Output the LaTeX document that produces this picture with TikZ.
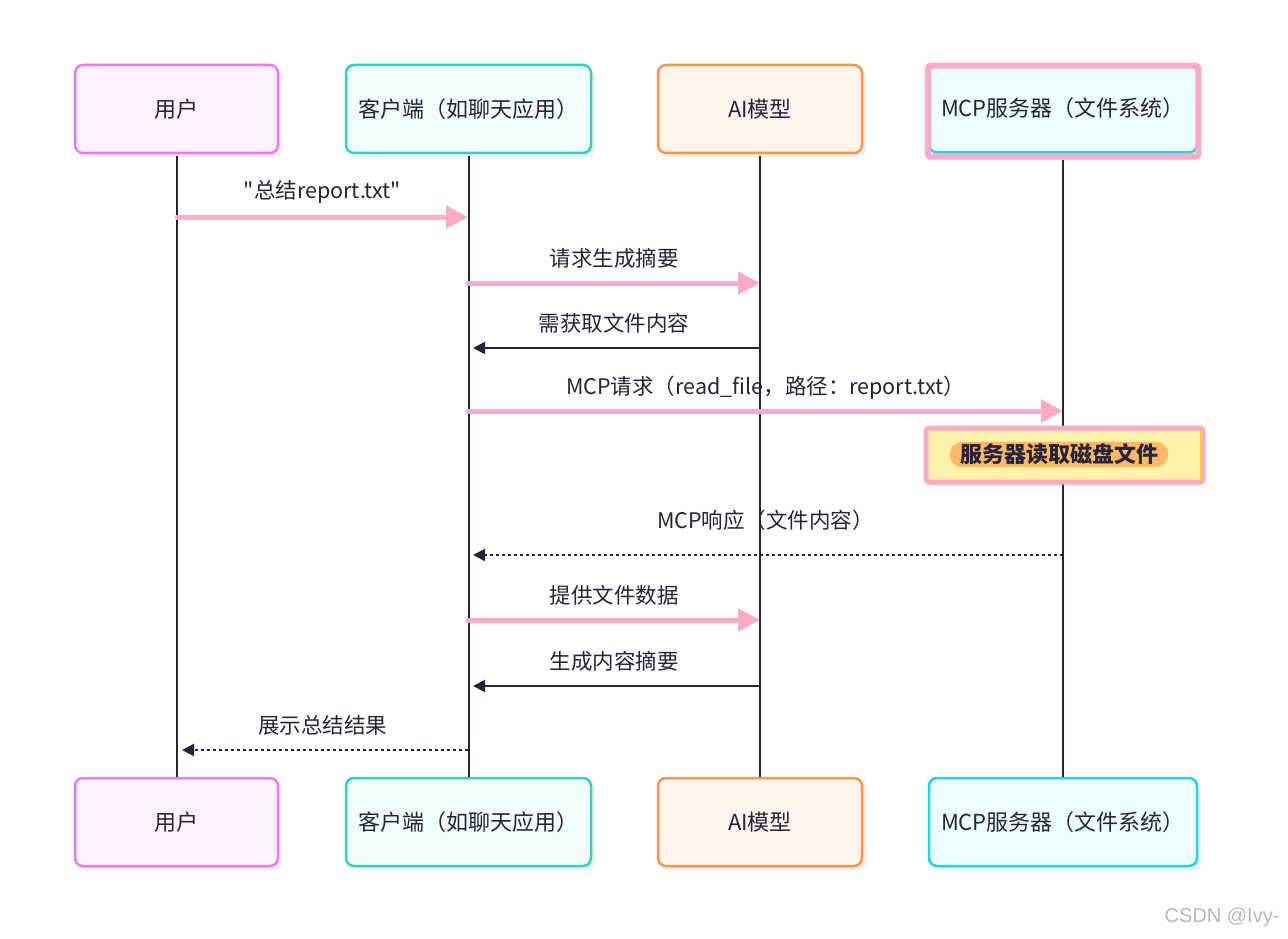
\documentclass[tikz,border=0pt]{standalone}
\usepackage{fontspec}
\setmainfont{Noto Sans CJK SC}[Ligatures=TeXOff]
\newfontfamily\wmfont{Liberation Sans}
\usetikzlibrary{arrows.meta,shadows}
\definecolor{lineC}{HTML}{27233A}
\definecolor{hiPink}{HTML}{FFAAC8}
\definecolor{userD}{HTML}{E97BF7}
\definecolor{userF}{HTML}{FDF2FD}
\definecolor{clientD}{HTML}{2DD4BF}
\definecolor{clientF}{HTML}{F0FDFA}
\definecolor{aiD}{HTML}{F7974A}
\definecolor{aiF}{HTML}{FFF5EC}
\definecolor{mcpD}{HTML}{22D3EE}
\definecolor{mcpF}{HTML}{ECFEFF}
\definecolor{noteF}{HTML}{FFF2A8}
\definecolor{pillF}{HTML}{FFB964}
\definecolor{stripeC}{HTML}{FFD400}
\tikzstyle{actor}=[rectangle,rounded corners=8pt,line width=2.5pt,minimum height=88pt,font=\fontsize{22}{26}\selectfont,text=lineC,drop shadow={shadow xshift=4pt,shadow yshift=-4pt,opacity=0.12}]
\tikzstyle{life}=[line width=2pt,lineC]
\tikzstyle{req}=[line width=5pt,hiPink,line cap=round,-{Triangle[length=22pt,width=22pt]}]
\tikzstyle{ret}=[line width=2pt,lineC,shorten >=5pt,-{Triangle[length=12pt,width=12pt]}]
\tikzstyle{reply}=[ret,dash pattern=on 3pt off 3pt]
\tikzstyle{lbl}=[font=\fontsize{21.5}{25}\selectfont,text=lineC,midway,yshift=25pt]

\begin{document}
\begin{tikzpicture}[x=1pt,y=-1pt]
\fill[white] (0,0) rectangle (1288,939);
\useasboundingbox (0,0) rectangle (1288,939);

% participants
\node[actor,draw=userD,fill=userF,minimum width=203pt] (userTop) at (176.5,109) {用户};
\node[actor,draw=clientD,fill=clientF,minimum width=245pt] (clientTop) at (468.5,109) {客户端（如聊天应用）};
\node[actor,draw=aiD,fill=aiF,minimum width=204pt] (aiTop) at (760,109) {AI模型};
\node[actor,draw=mcpD,fill=mcpF,minimum width=268pt] (mcpTop) at (1063,108.5) {MCP服务器（文件系统）};
\draw[hiPink,line width=6pt,rounded corners=3pt] ([yshift=-2.5pt]mcpTop.north west) rectangle ([yshift=-3pt]mcpTop.south east);

\node[actor,draw=userD,fill=userF,minimum width=203pt] (userBot) at (176.5,822) {用户};
\node[actor,draw=clientD,fill=clientF,minimum width=245pt] (clientBot) at (468.5,822) {客户端（如聊天应用）};
\node[actor,draw=aiD,fill=aiF,minimum width=204pt] (aiBot) at (760,822) {AI模型};
\node[actor,draw=mcpD,fill=mcpF,minimum width=268pt] (mcpBot) at (1063,822) {MCP服务器（文件系统）};

% lifelines
\draw[life] ([yshift=-2pt]userTop.south) -- (userBot.north);
\draw[life] ([yshift=-2pt]clientTop.south) -- (clientBot.north);
\draw[life] ([yshift=-2pt]aiTop.south) -- (aiBot.north);
\draw[life] ([yshift=-6pt]mcpTop.south) -- (mcpBot.north);

% message points
\coordinate (u1) at (177,217); \coordinate (c1) at (468,217);
\coordinate (c2) at (468,283); \coordinate (a2) at (760,283);
\coordinate (a3) at (760,348); \coordinate (c3) at (468,348);
\coordinate (c4) at (468,411); \coordinate (m4) at (1063,411);
\coordinate (m6) at (1063,555); \coordinate (c6) at (468,555);
\coordinate (c7) at (468,620); \coordinate (a7) at (760,620);
\coordinate (a8) at (760,686); \coordinate (c8) at (468,686);
\coordinate (c9) at (468,750); \coordinate (u9) at (177,750);

\draw[req] (u1) -- (c1) node[lbl] {"总结report.txt"};
\draw[req] (c2) -- (a2) node[lbl] {请求生成摘要};
\draw[ret] (a3) -- (c3) node[lbl] {需获取文件内容};
\draw[req] (c4) -- (m4) node[lbl,yshift=-2pt] {MCP请求（read\_file，路径：report.txt）};

% note over the server
\node[rectangle,rounded corners=3pt,fill=noteF,draw=hiPink,line width=5pt,minimum width=277pt,minimum height=54pt,drop shadow={shadow xshift=3pt,shadow yshift=-4pt,opacity=0.12}] (readNote) at (1064.5,455) {};
\draw[stripeC,line width=2.5pt] ([xshift=-4.5pt,yshift=-4pt]readNote.north east) -- ([xshift=-4.5pt,yshift=4pt]readNote.south east);
\node[fill=pillF,rounded corners=12pt,inner xsep=10pt,inner ysep=2pt,font=\fontsize{22}{26}\selectfont\bfseries,text=lineC] (readPill) at (1059,454.5) {服务器读取磁盘文件};

\draw[reply] (m6) -- (c6) node[lbl,yshift=10pt] {MCP响应（文件内容）};
\draw[req] (c7) -- (a7) node[lbl] {提供文件数据};
\draw[ret] (a8) -- (c8) node[lbl] {生成内容摘要};
\draw[reply] (c9) -- (u9) node[lbl] {展示总结结果};

\node[anchor=east,font=\wmfont\fontsize{20}{24}\selectfont,text=black!28] (mark) at (1283,917) {CSDN @Ivy-};
\end{tikzpicture}
\end{document}
